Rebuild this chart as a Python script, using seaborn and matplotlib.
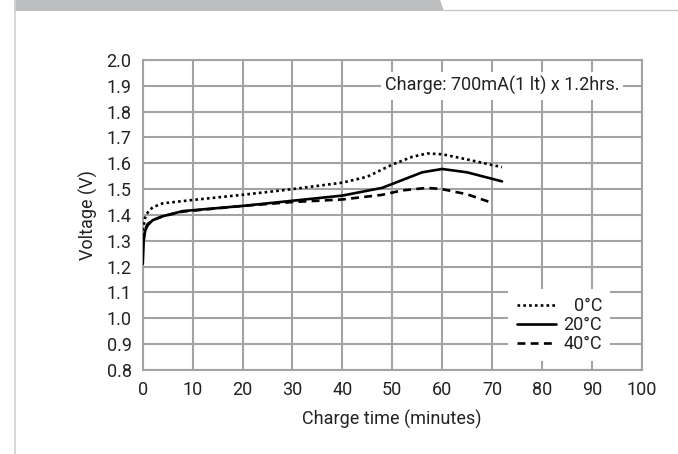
import numpy as np
import pandas as pd
import seaborn as sns
import matplotlib.pyplot as plt
from matplotlib.patches import Polygon

# values
t_0c = [0, 0.5, 1, 2, 4, 10, 20, 30, 40, 45, 50, 54, 57, 60, 65, 72]
v_0c = [1.34, 1.39, 1.41, 1.43, 1.445, 1.458, 1.478, 1.50, 1.525, 1.548, 1.595, 1.625, 1.638, 1.635, 1.615, 1.585]
t_20c = [0, 0.2, 0.5, 1, 2, 4, 8, 20, 30, 40, 48, 52, 56, 60, 65, 72]
v_20c = [1.21, 1.30, 1.34, 1.36, 1.38, 1.395, 1.415, 1.435, 1.455, 1.475, 1.505, 1.535, 1.565, 1.578, 1.565, 1.53]
t_40c = [0, 0.3, 1, 2, 4, 8, 20, 30, 40, 48, 52, 57, 60, 65, 70]
v_40c = [1.30, 1.34, 1.365, 1.38, 1.395, 1.413, 1.435, 1.45, 1.46, 1.478, 1.495, 1.505, 1.50, 1.48, 1.447]
labels = ['0°C', '20°C', '40°C']
note = 'Charge: 700mA(1 lt) x 1.2hrs.'

df = pd.concat([
    pd.DataFrame({'t': t_0c, 'v': v_0c, 'temp': labels[0]}),
    pd.DataFrame({'t': t_20c, 'v': v_20c, 'temp': labels[1]}),
    pd.DataFrame({'t': t_40c, 'v': v_40c, 'temp': labels[2]}),
])

sns.set_style('white')
plt.rcParams['font.family'] = ['Roboto', 'DejaVu Sans']

fig = plt.figure(figsize=(6.78, 4.54), dpi=100)
ax = fig.add_axes([0.2105, 0.185, 0.736, 0.683])

grid_col = '#a3a3a3'
txt_col = '#222222'
fs = 13
styles = {labels[0]: (0, (1, 1.2)), labels[1]: '-', labels[2]: (0, (3, 2))}
for lab in labels:
    sub = df[df['temp'] == lab]
    sns.lineplot(data=sub, x='t', y='v', ax=ax, color='black', lw=1.9,
                 linestyle=styles[lab], label=lab, zorder=3)

ax.set_xlim(0, 100)
ax.set_ylim(0.8, 2.0)
ax.set_xticks(np.arange(0, 101, 10))
ax.set_yticks(np.round(np.arange(0.8, 2.01, 0.1), 1))
ax.set_yticklabels([f'{v:.1f}' for v in np.arange(0.8, 2.01, 0.1)])
ax.grid(True, color=grid_col, lw=1.5)
for s in ax.spines.values():
    s.set_color(grid_col)
    s.set_linewidth(1.5)
ax.tick_params(length=0, labelsize=fs, colors=txt_col, pad=8)
ax.set_xlabel('Charge time (minutes)', fontsize=fs, color=txt_col, labelpad=8)
ax.set_ylabel('Voltage (V)', fontsize=fs, color=txt_col, labelpad=6)

ax.text(72, 1.9, note, ha='center', va='center', fontsize=fs, color=txt_col,
        bbox=dict(facecolor='white', edgecolor='none', pad=3), zorder=4)

leg = ax.legend(loc='lower right', bbox_to_anchor=(0.955, 0.0), frameon=True,
                fontsize=fs, handlelength=2.2, labelspacing=0.05,
                handletextpad=0.4, borderpad=0.45, fancybox=False)
leg.get_frame().set_edgecolor('none')
leg.get_frame().set_facecolor('white')
leg.get_frame().set_alpha(1)
leg.set_zorder(5)
for t in leg.get_texts():
    t.set_color(txt_col)

# right-align legend labels
fig.canvas.draw()
rend = fig.canvas.get_renderer()
texts = leg.get_texts()
widths = [t.get_window_extent(rend).width for t in texts]
wmax = max(widths)
for t, w in zip(texts, widths):
    t.set_position((wmax - w, 0))

# page decoration: header band and left rule
fig.patches.append(Polygon([[14 / 678, 1], [440 / 678, 1], [444 / 678, 1 - 11 / 454],
                            [14 / 678, 1 - 11 / 454]], closed=True,
                           transform=fig.transFigure, facecolor='#bcbdbf', edgecolor='none'))
fig.add_artist(plt.Line2D([444 / 678, 1], [1 - 10 / 454, 1 - 10 / 454],
                          transform=fig.transFigure, color='#c6c6c6', lw=1))
fig.add_artist(plt.Line2D([14.5 / 678, 14.5 / 678], [0, 1],
                          transform=fig.transFigure, color='#d4d4d4', lw=1.3))

fig.savefig('out.png', dpi=100)
